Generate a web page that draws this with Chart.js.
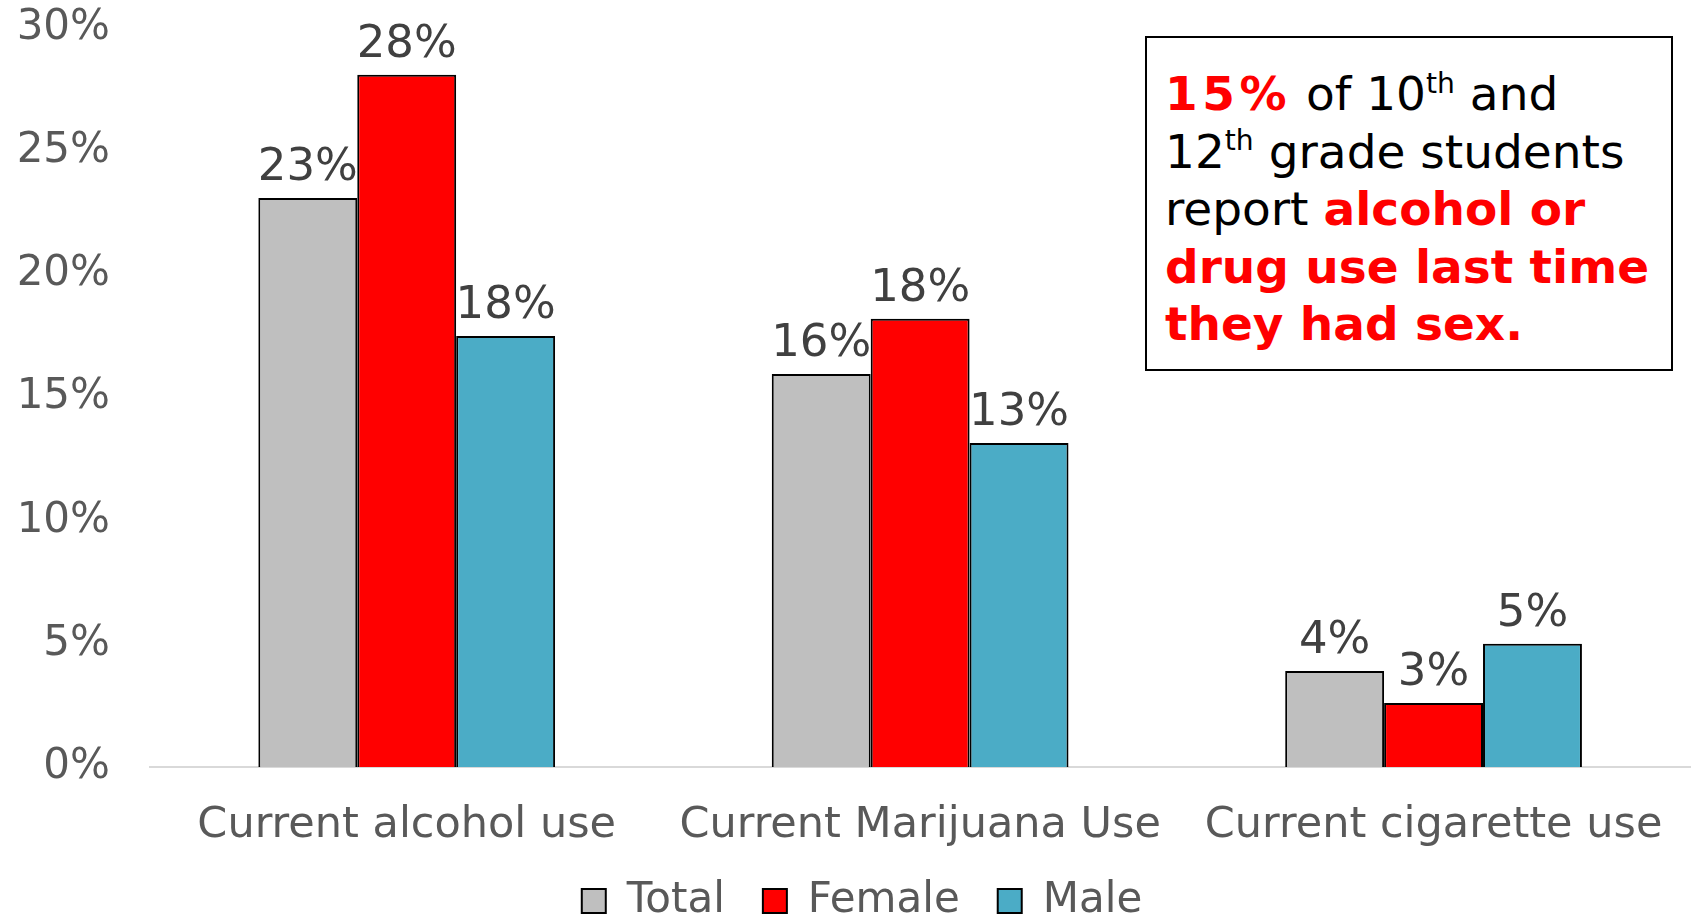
<!DOCTYPE html>
<html>
<head>
<meta charset="utf-8">
<script src="https://cdn.jsdelivr.net/npm/chart.js@4.4.1/dist/chart.umd.min.js"></script>
<style>
  html, body { margin: 0; background: #fff; overflow: hidden; }
  #wrap { position: relative; width: 1696px; height: 915px; overflow: hidden; }
  #note {
    position: absolute; left: 1145px; top: 36px; width: 528px; height: 335px;
    box-sizing: border-box; border: 2px solid #000; background: #fff;
    padding: 27px 0 0 18px;
    font-family: "DejaVu Sans", Verdana, sans-serif; font-size: 47px; line-height: 57.5px;
    color: #000; white-space: nowrap;
  }
  #note .hl { color: #ff0000; font-weight: bold; }
  #note .wide { letter-spacing: 4.5px; }
  #note sup { font-size: 0.6em; line-height: 0; vertical-align: 0; position: relative; top: -0.62em; }
</style>
</head>
<body>
<div id="wrap">
  <canvas id="chart" width="1696" height="932"></canvas>
  <div id="note"><span class="hl wide">15%</span> of 10<sup>th</sup> and<br>12<sup>th</sup> grade students<br>report <span class="hl">alcohol or</span><br><span class="hl">drug use last time<br>they had sex.</span></div>
</div>
<script>
// values (percent)
const categories = ['Current alcohol use', 'Current Marijuana Use', 'Current cigarette use'];
const seriesNames = ['Total', 'Female', 'Male'];
const totalValues = [23.1, 15.95, 3.9];
const femaleValues = [28.1, 18.2, 2.6];
const maleValues = [17.5, 13.15, 5.0];
const yTickMax = 30;
const yTickStep = 5;

const FONT = '"DejaVu Sans", Verdana, sans-serif';
const colors = ['#BFBFBF', '#FF0000', '#4BACC6'];

// percent labels above each bar
const barLabels = {
  id: 'barLabels',
  afterLayout(chart) {
    // keep descenders of the category labels, nudge legend like the slide
    chart.scales.x.bottom = chart.height;
    chart.legend.left += 16;
    chart.legend.right += 16;
  },
  afterDatasetsDraw(chart) {
    const ctx = chart.ctx;
    ctx.save();
    ctx.font = '45px ' + FONT;
    ctx.fillStyle = '#404040';
    ctx.textAlign = 'center';
    ctx.textBaseline = 'alphabetic';
    chart.data.datasets.forEach((ds, i) => {
      chart.getDatasetMeta(i).data.forEach((bar, j) => {
        ctx.fillText(Math.round(ds.data[j]) + '%', bar.x, bar.y - 18);
      });
    });
    ctx.restore();
  }
};

const seriesValues = [totalValues, femaleValues, maleValues];

new Chart(document.getElementById('chart').getContext('2d'), {
  type: 'bar',
  data: {
    labels: categories,
    datasets: seriesNames.map((name, i) => ({
      label: name,
      data: seriesValues[i],
      backgroundColor: colors[i],
      borderColor: '#000',
      borderWidth: 2,
      categoryPercentage: 0.578,
      barPercentage: 1
    }))
  },
  options: {
    responsive: false,
    devicePixelRatio: 1,
    animation: false,
    layout: { padding: { top: 28, right: 4, left: 0, bottom: 0 } },
    plugins: {
      tooltip: { enabled: false },
      legend: {
        position: 'bottom',
        labels: {
          font: { family: FONT, size: 42 },
          color: '#595959',
          boxWidth: 24,
          boxHeight: 24,
          padding: 38
        }
      }
    },
    scales: {
      x: {
        grid: { display: false, drawTicks: false },
        border: { display: true, color: '#D9D9D9', width: 2 },
        ticks: { font: { family: FONT, size: 43 }, color: '#595959', padding: 33 },
        afterFit: scale => { scale.height = 75; }
      },
      y: {
        min: 0,
        max: yTickMax,
        grid: { display: false, drawTicks: false },
        border: { display: false },
        ticks: {
          stepSize: yTickStep,
          font: { family: FONT, size: 42 },
          color: '#595959',
          padding: 40,
          callback: v => v + '%'
        },
        afterFit: scale => {
          scale.width = 150;
          scale.paddingTop = 0;
          scale.paddingBottom = 0;
        }
      }
    }
  },
  plugins: [barLabels]
});
</script>
</body>
</html>
